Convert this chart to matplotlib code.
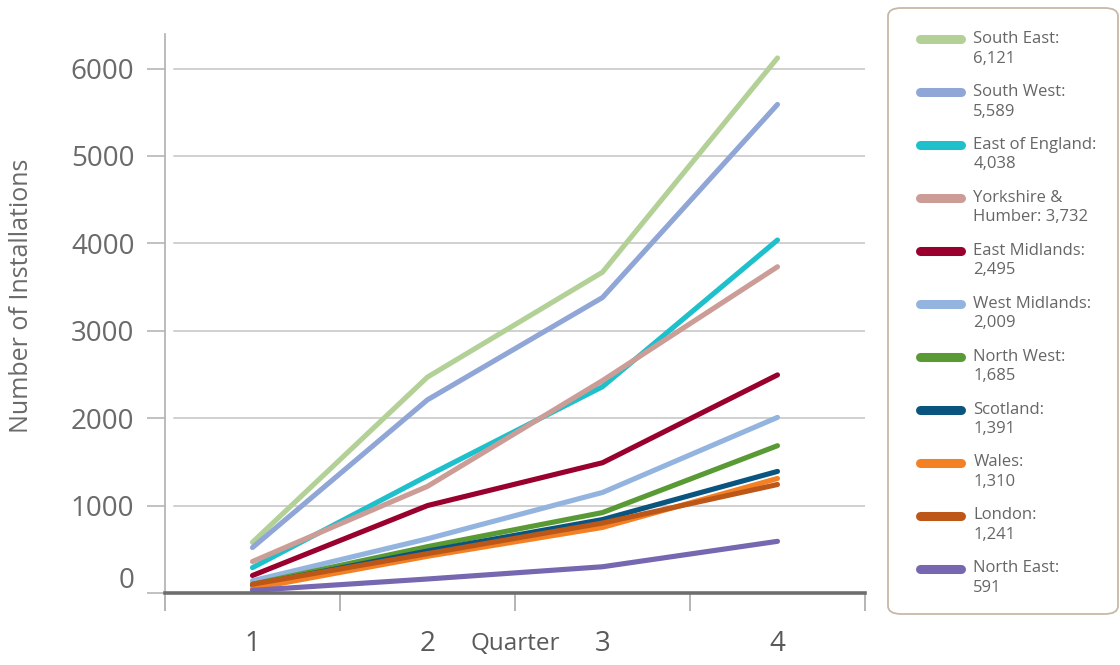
import matplotlib
matplotlib.use("Agg")
import matplotlib.pyplot as plt
import matplotlib.transforms as mtransforms
from matplotlib.patches import FancyBboxPatch
from matplotlib.ticker import FixedLocator

plt.rcParams['font.family'] = ['Open Sans', 'DejaVu Sans']

# Cumulative installations by quarter for each region
quarters = [1, 2, 3, 4]
regions = ["South East", "South West", "East of England", "Yorkshire &\nHumber",
           "East Midlands", "West Midlands", "North West", "Scotland",
           "Wales", "London", "North East"]
south_east = [580, 2470, 3670, 6121]
south_west = [520, 2210, 3380, 5589]
east_of_england = [290, 1340, 2360, 4038]
yorkshire_humber = [360, 1220, 2430, 3732]
east_midlands = [200, 1000, 1490, 2495]
west_midlands = [140, 620, 1150, 2009]
north_west = [100, 530, 920, 1685]
scotland = [90, 480, 840, 1391]
wales = [50, 420, 750, 1310]
london = [100, 450, 800, 1241]
north_east = [30, 160, 300, 591]
series = [south_east, south_west, east_of_england, yorkshire_humber,
          east_midlands, west_midlands, north_west, scotland,
          wales, london, north_east]
colors = ["#b3d197", "#8fa6d6", "#1ec0cc", "#cc9d96", "#99002e", "#94b4e0",
          "#5a9a35", "#0a5580", "#f48024", "#bd5718", "#7766b0"]
y_ticks = [0, 1000, 2000, 3000, 4000, 5000, 6000]

fig = plt.figure(figsize=(11.2, 6.65), dpi=100)
ax = fig.add_axes([0.1473, 0.1083, 0.625, 0.8412])
ax.set_xlim(0.5, 4.5)
ax.set_ylim(0, 6400)

# light horizontal gridlines
for yv in y_ticks[1:]:
    ax.axhline(yv, xmin=0.013, xmax=1.0, color="#c4c4c4", lw=1.1, zorder=1)


def legend_label(name, value):
    if "\n" in name:
        return f"{name}: {value:,}"
    return f"{name}:\n{value:,}"


for name, vals, c in zip(regions, series, colors):
    ax.plot(quarters, vals, color=c, lw=3.7, solid_capstyle="round",
            solid_joinstyle="round", label=legend_label(name, vals[-1]), zorder=3)

# spines
for s in ("top", "right"):
    ax.spines[s].set_visible(False)
ax.spines["left"].set_color("#b0b0b0")
ax.spines["left"].set_linewidth(1.2)
ax.spines["bottom"].set_color("#6e6e6e")
ax.spines["bottom"].set_linewidth(2.6)
ax.spines["bottom"].set_zorder(4)

# y axis
ax.set_yticks(y_ticks)
ax.set_yticklabels([str(v) for v in y_ticks])
ax.tick_params(axis="y", direction="out", length=13, width=1.1, color="#b0b0b0",
               labelsize=20, labelcolor="#6a6a6a", pad=9)
shift = mtransforms.ScaledTranslation(0, 11 / 72, fig.dpi_scale_trans)
zero_label = ax.get_yticklabels()[0]
zero_label.set_transform(zero_label.get_transform() + shift)

# x axis: labels at category centres, tick marks between categories
ax.set_xticks(quarters)
ax.set_xticklabels([str(q) for q in quarters])
ax.xaxis.set_minor_locator(FixedLocator([0.5, 1.5, 2.5, 3.5, 4.5]))
ax.tick_params(axis="x", which="major", length=0, pad=27, labelsize=20,
               labelcolor="#5a5a5a")
ax.tick_params(axis="x", which="minor", direction="out", length=13, width=1.1,
               color="#a0a0a0")

ax.set_xlabel("Quarter", fontsize=17.5, color="#5a5a5a")
ax.xaxis.set_label_coords(0.5, -0.069)
ax.set_ylabel("Number of Installations", fontsize=18, color="#6a6a6a")
ax.yaxis.set_label_coords(-0.187, 0.531)

# legend outline with rounded corners
box = FancyBboxPatch((888 / 1120, 1 - 614 / 665), 230 / 1120, 606 / 665,
                     boxstyle="round,pad=0,rounding_size=0.012",
                     transform=fig.transFigure, facecolor="none",
                     edgecolor="#c8b8a8", linewidth=1.3, zorder=0)
fig.patches.append(box)

leg = ax.legend(loc="upper left", bbox_to_anchor=(920 / 1120, 1 - 31 / 665),
                bbox_transform=fig.transFigure, frameon=False,
                fontsize=12, labelcolor="#666666", handlelength=2.45,
                handletextpad=0.75, labelspacing=1.04, borderpad=0,
                borderaxespad=0)
for t in leg.get_texts():
    t.set_linespacing(1.3)
# keep each swatch level with the first line of its label
raise_swatch = mtransforms.ScaledTranslation(0, 7 / 72, fig.dpi_scale_trans)
for h in leg.get_lines():
    h.set_linewidth(6.5)
    h.set_solid_capstyle("round")
    h.set_transform(h.get_transform() + raise_swatch)

fig.savefig("out.png", dpi=100)
